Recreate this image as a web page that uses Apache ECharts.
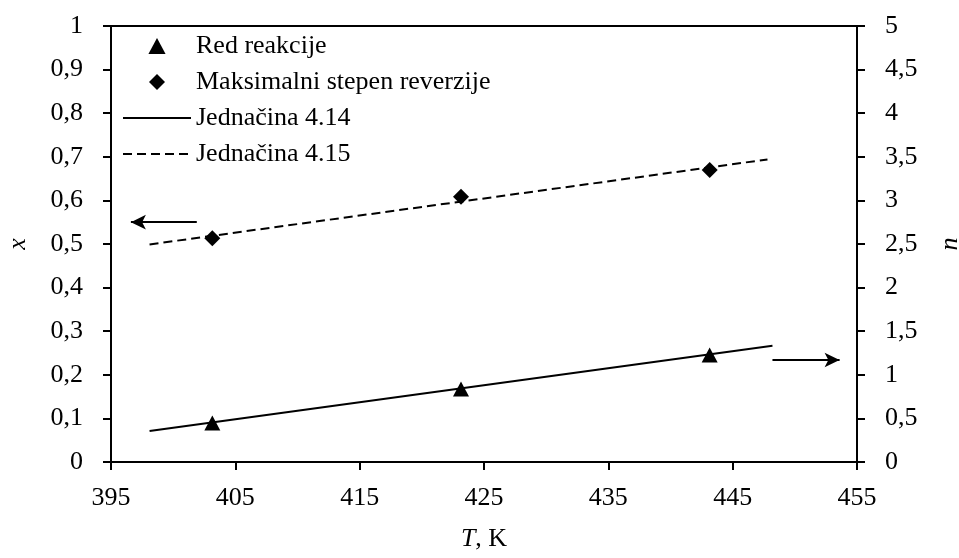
<!DOCTYPE html>
<html>
<head>
<meta charset="utf-8">
<script src="https://cdn.jsdelivr.net/npm/echarts@6/dist/echarts.min.js"></script>
<style>
html,body{margin:0;padding:0;background:#fff;}
#c{width:959px;height:558px;}
</style>
</head>
<body>
<div id="c"></div>
<script>
// Temperatures (K)
const temps = [403.15, 423.15, 443.15];
// Red reakcije (n, right axis)
const redReakcije = [0.447, 0.837, 1.227];
// Maksimalni stepen reverzije (x, left axis)
const maksStepen = [0.513, 0.6085, 0.670];
// Jednačina 4.14 (n, right axis) endpoints
const jed414T = [398.1, 448.2];
const jed414 = [0.356, 1.334];
// Jednačina 4.15 (x, left axis) endpoints
const jed415T = [398.1, 447.8];
const jed415 = [0.499, 0.694];
// Arrows pointing to the relevant axis
const arrowLeftT = [401.9, 396.6];
const arrowLeftY = 0.55;
const arrowRightT = [448.2, 453.6];
const arrowRightY = 1.17;

const FONT = 'Liberation Serif';
const FS = 26;

const zip = (a, b) => a.map((v, i) => [v, b[i]]);
const fmt = v => String(Math.round(v * 10) / 10).replace('.', ',');

const chart = echarts.init(document.getElementById('c'), null, {renderer: 'canvas'});
const axisCommon = {
  axisLine: {show: true, onZero: false, lineStyle: {color: '#000', width: 2}},
  axisTick: {show: true, inside: false, length: 8, lineStyle: {color: '#000', width: 2}},
  splitLine: {show: false},
  nameMoveOverlap: false
};
const TRI = 'path://M0,14L7.5,0L15,14Z';
const DIA = 'path://M8,0L16,8L8,16L0,8Z';
chart.setOption({
  animation: false,
  backgroundColor: '#fff',
  textStyle: {fontFamily: FONT},
  grid: {left: 111, right: 102, top: 26, bottom: 96, show: true, borderColor: '#000', borderWidth: 2, containLabel: false, outerBoundsMode: 'none'},
  legend: {
    orient: 'vertical', left: 122, top: 33, padding: 0,
    itemWidth: 68, itemHeight: 16, itemGap: 10, symbolKeepAspect: true,
    textStyle: {color: '#000', fontFamily: FONT, fontSize: FS, lineHeight: 26},
    data: [
      {name: 'Red reakcije', icon: TRI, itemStyle: {opacity: 1}},
      {name: 'Maksimalni stepen reverzije', icon: DIA, itemStyle: {opacity: 1}},
      {name: 'Jednačina 4.14', itemStyle: {opacity: 0}},
      {name: 'Jednačina 4.15', itemStyle: {opacity: 0}}
    ]
  },
  xAxis: Object.assign({}, axisCommon, {
    type: 'value', min: 395, max: 455, interval: 10,
    name: '{i|T}, K', nameLocation: 'middle', nameGap: 64,
    nameTextStyle: {color: '#000', fontFamily: FONT, fontSize: FS, rich: {i: {fontStyle: 'italic', fontFamily: FONT, fontSize: FS, color: '#000'}}},
    axisLabel: {color: '#000', fontFamily: FONT, fontSize: FS, margin: 23}
  }),
  yAxis: [
    Object.assign({}, axisCommon, {
      type: 'value', min: 0, max: 1, interval: 0.1, position: 'left',
      name: 'x', nameLocation: 'middle', nameGap: 80,
      nameTextStyle: {color: '#000', fontFamily: FONT, fontSize: FS, fontStyle: 'italic'},
      axisLabel: {color: '#000', fontFamily: FONT, fontSize: FS, margin: 28, formatter: fmt}
    }),
    Object.assign({}, axisCommon, {
      type: 'value', min: 0, max: 5, interval: 0.5, position: 'right',
      name: 'n', nameLocation: 'middle', nameGap: 80,
      nameTextStyle: {color: '#000', fontFamily: FONT, fontSize: FS, fontStyle: 'italic'},
      axisLabel: {color: '#000', fontFamily: FONT, fontSize: FS, margin: 28, formatter: fmt}
    })
  ],
  series: [
    {
      name: 'Red reakcije', type: 'scatter', yAxisIndex: 1,
      symbol: 'triangle', symbolSize: [16, 15],
      itemStyle: {color: '#000', opacity: 1},
      data: zip(temps, redReakcije), z: 5
    },
    {
      name: 'Maksimalni stepen reverzije', type: 'scatter', yAxisIndex: 0,
      symbol: 'diamond', symbolSize: [16, 16],
      itemStyle: {color: '#000', opacity: 1},
      data: zip(temps, maksStepen), z: 5
    },
    {
      name: 'Jednačina 4.14', type: 'line', yAxisIndex: 1, symbol: 'none',
      lineStyle: {color: '#000', width: 2}, itemStyle: {color: '#000'},
      data: zip(jed414T, jed414),
      markLine: {
        silent: true, symbol: ['none', 'arrow'], symbolSize: [11, 15],
        label: {show: false}, emphasis: {disabled: true},
        lineStyle: {color: '#000', width: 2, type: 'solid'},
        data: [[{coord: [arrowRightT[0], arrowRightY]}, {coord: [arrowRightT[1], arrowRightY]}]]
      }
    },
    {
      name: 'Jednačina 4.15', type: 'line', yAxisIndex: 0, symbol: 'none',
      lineStyle: {color: '#000', width: 2, type: [9, 5]}, itemStyle: {color: '#000'},
      data: zip(jed415T, jed415),
      markLine: {
        silent: true, symbol: ['none', 'arrow'], symbolSize: [11, 15],
        label: {show: false}, emphasis: {disabled: true},
        lineStyle: {color: '#000', width: 2, type: 'solid'},
        data: [[{coord: [arrowLeftT[0], arrowLeftY]}, {coord: [arrowLeftT[1], arrowLeftY]}]]
      }
    }
  ]
});
</script>
</body>
</html>
